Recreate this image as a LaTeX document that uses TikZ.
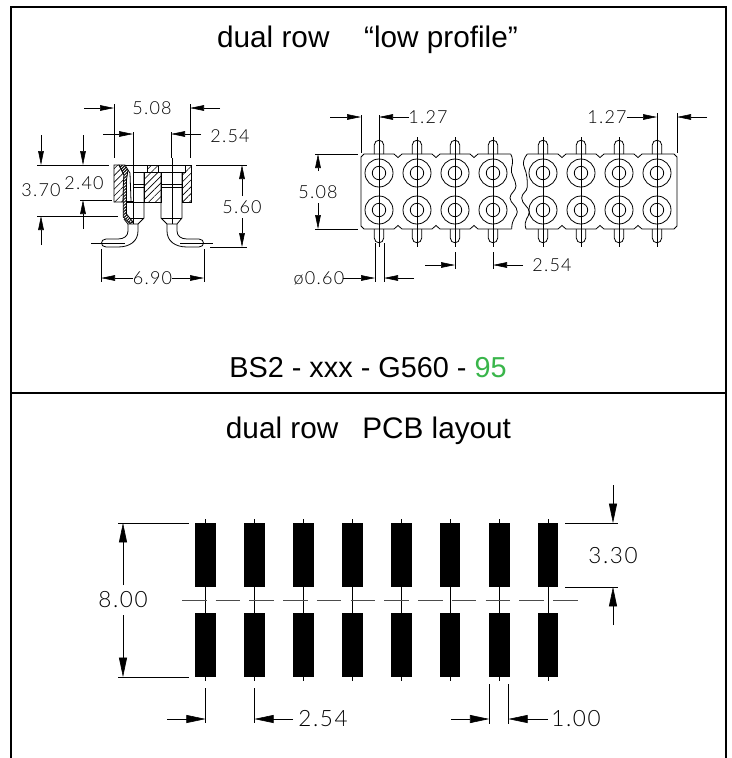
\documentclass[tikz,border=0pt]{standalone}
\usepackage{fontspec}
\usetikzlibrary{arrows.meta,patterns.meta}
\setmainfont{Liberation Sans}
\newfontfamily\cadfont[UprightFont=* Light,LetterSpace=7]{Lato}
\definecolor{gradegreen}{RGB}{57,181,74}
\tikzset{
	title/.style={font=\fontsize{22.3}{26}\selectfont,inner sep=0.75pt},
	dimtext/.style={font=\cadfont\fontsize{13.5}{16}\selectfont,inner sep=0.75pt,text=black},
	thin line/.style={line width=0.45pt},
	part line/.style={line width=0.6pt},
	dim small/.style={thin line,-{Triangle[length=10.5pt,width=4.2pt]}},
	dim large/.style={thin line,-{Triangle[length=14.5pt,width=6pt]}},
	hatch/.style={part line,pattern={Lines[angle=45,distance=3.6pt,line width=0.45pt]}},
	pad/.style={fill=black},
}
\begin{document}
\begin{tikzpicture}[x=0.75pt,y=0.75pt,yscale=-1]
	\useasboundingbox (0,0) rectangle (732,758);

	%Frame
	\draw [line width=1.5pt] (11,758) -- (11,7) -- (726,7) -- (726,758);
	\draw [line width=1.5pt] (11,393) -- (726,393);

	%Side view: body
	\draw [hatch] (114,165) -- (119,165) -- (124,175) -- (123,202) -- (114,202) -- cycle;
	\draw [hatch] (144,202) -- (161,202) -- (161,172) -- (158,172) -- (158,165) -- (147,165) -- (147,172) -- (144,172) -- cycle;
	\draw [hatch] (182,202) -- (191,202) -- (191,165) -- (185,165) -- (185,172) -- (182,172) -- cycle;
	\draw [part line] (119,165) -- (185,165);
	\draw [part line] (123,202) -- (144,202);
	\draw [part line] (133,172) -- (182,172);
	%Side view: right pin
	\draw [part line] (161,172) -- (161,218) -- (167,224) -- (177,224) -- (182,218) -- (182,172);
	\draw [part line] (161,218) -- (182,218);
	\draw [part line] (161,184) -- (182,184);
	\draw [part line] (161,187) -- (182,187);
	\draw [part line] (177,224) -- (177,231) .. controls (177,236) and (181,239) .. (187,239) -- (199,239) .. controls (205,239) and (205,247) .. (199,247) -- (187,247) .. controls (175,247) and (167,241) .. (167,231) -- (167,224);
	%Side view: left pin
	\draw [part line] (144,172) -- (144,218) -- (138,224) -- (128,224) -- (124,219);
	\draw [part line] (127,218) -- (144,218);
	\draw [part line] (133,184) -- (144,184);
	\draw [part line] (133,187) -- (144,187);
	\draw [part line] (128,224) -- (128,231) .. controls (128,236) and (124,239) .. (118,239) -- (106,239) .. controls (100,239) and (100,247) .. (106,247) -- (118,247) .. controls (130,247) and (138,241) .. (138,231) -- (138,224);
	%Side view: contact
	\draw [part line,fill=white] (119,165) -- (125,165) -- (128,170) -- (126.5,180) -- (126.5,214) -- (133,222) -- (130,223.5) -- (123.3,217) -- (123.3,185) -- (124,175) -- cycle;
	\fill [pattern={Lines[angle=45,distance=1.6pt,line width=0.7pt]}] (119,165) -- (125,165) -- (128,170) -- (126.5,180) -- (126.5,214) -- (133,222) -- (130,223.5) -- (123.3,217) -- (123.3,185) -- (124,175) -- cycle;
	\draw [part line] (133,172) -- (133,218);
	\draw [part line] (128,170) -- (130,173) -- (131,201);
	\draw [part line] (126.5,201) -- (133,201);
	%Side view: centre lines
	\draw [thin line] (133,158) -- (133,224);
	\draw [thin line] (172,158) -- (172,224);
	\draw [thin line] (91,243) -- (125,243);
	\draw [thin line] (180,243) -- (213,243);

	%Side view: dimension 5.08
	\draw [thin line] (114,104) -- (114,158);
	\draw [thin line] (190,104) -- (190,158);
	\draw [dim small] (84,108) -- (114,108);
	\draw [dim small] (220,108) -- (190,108);
	%Side view: dimension 2.54
	\draw [thin line] (133,132) -- (133,158);
	\draw [thin line] (171,132) -- (171,158);
	\draw [dim small] (103,134) -- (133,134);
	\draw [dim small] (201,134) -- (171,134);
	%Side view: dimensions 3.70 and 2.40
	\draw [thin line] (37,165) -- (109,165);
	\draw [thin line] (37,216) -- (118,216);
	\draw [thin line] (80,200) -- (112,200);
	\draw [dim small] (41,135) -- (41,165);
	\draw [dim small] (41,245) -- (41,216);
	\draw [dim small] (83,135) -- (83,165);
	\draw [dim small] (83,229) -- (83,200);
	%Side view: dimension 5.60
	\draw [thin line] (196,165) -- (247,165);
	\draw [thin line] (210,247) -- (247,247);
	\draw [dim small] (242,196) -- (242,165);
	\draw [dim small] (242,218) -- (242,247);
	%Side view: dimension 6.90
	\draw [thin line] (101,249) -- (101,282);
	\draw [thin line] (204,249) -- (204,282);
	\draw [dim small] (133,278) -- (101,278);
	\draw [dim small] (172,278) -- (204,278);

	%Top view: pins and holes
	\foreach \pinx in {379,417,455,493,543,581,619,657} {
		\draw [part line] (\pinx-4.7,154) -- (\pinx-4.7,145) .. controls (\pinx-4.7,138.7) and (\pinx+4.7,138.7) .. (\pinx+4.7,145) -- (\pinx+4.7,154);
		\draw [part line] (\pinx-4.7,229) -- (\pinx-4.7,238) .. controls (\pinx-4.7,244.3) and (\pinx+4.7,244.3) .. (\pinx+4.7,238) -- (\pinx+4.7,229);
		\draw [part line] (\pinx,173) circle [radius=14];
		\draw [part line] (\pinx,173) circle [radius=6.7];
		\draw [part line] (\pinx,210) circle [radius=14];
		\draw [part line] (\pinx,210) circle [radius=6.7];
		\draw [thin line] (\pinx,137) -- (\pinx,247);
	}
	%Top view: left part of the body
	\draw [part line] (510.7,154) -- (478,154) -- (474,157.5) -- (470,154) -- (440,154) -- (436,157.5) -- (432,154) -- (402,154) -- (398,157.5) -- (394,154) -- (364,154) -- (361,157) -- (361,226) -- (364,229) -- (394,229) -- (398,225.5) -- (402,229) -- (432,229) -- (436,225.5) -- (440,229) -- (470,229) -- (474,225.5) -- (478,229) -- (511.7,229);
	\draw [part line] (510.7,154) .. controls (513,158) and (513,163) .. (511.5,168) .. controls (510,174) and (516,180) .. (516,186) .. controls (516,191) and (510,193) .. (510,198) .. controls (510,203) and (517.5,206) .. (517.3,212) .. controls (517,217) and (511.7,218) .. (511.7,229);
	%Top view: right part of the body
	\draw [part line] (527.3,154) -- (558,154) -- (562,157.5) -- (566,154) -- (596,154) -- (600,157.5) -- (604,154) -- (634,154) -- (638,157.5) -- (642,154) -- (674,154) -- (677,157) -- (677,226) -- (674,229) -- (642,229) -- (638,225.5) -- (634,229) -- (604,229) -- (600,225.5) -- (596,229) -- (566,229) -- (562,225.5) -- (558,229) -- (526,229);
	\draw [part line] (527.3,154) .. controls (524,158) and (522,163) .. (524.5,168) .. controls (527,174) and (527.5,180) .. (527.3,187) .. controls (527,192) and (521.7,193) .. (521.7,198) .. controls (521.7,204) and (529.3,207) .. (529.3,212) .. controls (529.3,217) and (523,220) .. (526,229);

	%Top view: dimensions 1.27
	\draw [thin line] (361,115) -- (361,153);
	\draw [thin line] (379,115) -- (379,137);
	\draw [dim small] (330,117) -- (361,117);
	\draw [dim small] (409,117) -- (379,117);
	\draw [thin line] (657,113) -- (657,137);
	\draw [thin line] (677,113) -- (677,153);
	\draw [dim small] (627,117) -- (657,117);
	\draw [dim small] (707,117) -- (677,117);
	%Top view: dimension 5.08
	\draw [thin line] (315,154) -- (358,154);
	\draw [thin line] (315,229) -- (358,229);
	\draw [dim small] (318,171) -- (318,154);
	\draw [dim small] (318,203) -- (318,229);
	%Top view: dimension 2.54
	\draw [thin line] (455,252) -- (455,269);
	\draw [thin line] (493,252) -- (493,269);
	\draw [dim small] (425,265) -- (455,265);
	\draw [dim small] (523,265) -- (493,265);
	%Top view: dimension 0.60
	\draw [thin line] (375,243) -- (375,282);
	\draw [thin line] (384,243) -- (384,282);
	\draw [dim small] (343,278) -- (375,278);
	\draw [dim small] (414,278) -- (384,278);

	%PCB: centre lines
	\foreach \padx in {205.7,254.3,303.3,352.3,401.3,450,499.3,548} {
		\draw [thin line] (\padx,519) -- (\padx,681);
	}
	\draw [part line,black!70,dash pattern={on 18.4pt off 6.9pt}] (182,600) -- (580,600);
	%PCB: pads
	\foreach \padx in {205.7,254.3,303.3,352.3,401.3,450,499.3,548} {
		\fill [pad] (\padx-10.3,522.7) rectangle (\padx+10.3,587.3);
		\fill [pad] (\padx-10.3,613) rectangle (\padx+10.3,677.3);
	}
	%PCB: dimension 8.00
	\draw [thin line] (118,523) -- (189,523);
	\draw [thin line] (118,677) -- (189,677);
	\draw [dim large] (123,585) -- (123,523);
	\draw [dim large] (123,615) -- (123,677);
	%PCB: dimension 2.54
	\draw [thin line] (205.7,688) -- (205.7,723);
	\draw [thin line] (254.3,688) -- (254.3,723);
	\draw [dim large] (167,719) -- (205.7,719);
	\draw [dim large] (293,719) -- (254.3,719);
	%PCB: dimension 1.00
	\draw [thin line] (489.3,684) -- (489.3,723.5);
	\draw [thin line] (508.3,684) -- (508.3,723.5);
	\draw [dim large] (451,719) -- (489.3,719);
	\draw [dim large] (548,719) -- (508.3,719);
	%PCB: dimension 3.30
	\draw [thin line] (565,523) -- (618,523);
	\draw [thin line] (565,587) -- (618,587);
	\draw [dim large] (613,485) -- (613,523);
	\draw [dim large] (613,625) -- (613,587);

	% Text Node
	\draw (367.5,40) node (toptitle) [title] {dual row\hspace{26pt}“low profile”};
	% Text Node
	\draw (368,368) node (partcode) [title,scale=0.97] {BS2 - xxx - G560 - \textcolor{gradegreen}{95}};
	% Text Node
	\draw (368.5,431) node (pcbtitle) [title] {dual row\hspace{18pt}PCB layout};
	% Text Node
	\draw (152,108) node (sidepitch) [dimtext] {5.08};
	% Text Node
	\draw (230,136) node (sidehalf) [dimtext] {2.54};
	% Text Node
	\draw (41,190) node (sidefull) [dimtext] {3.70};
	% Text Node
	\draw (84,183) node (sidepost) [dimtext] {2.40};
	% Text Node
	\draw (242,207) node (sideheight) [dimtext] {5.60};
	% Text Node
	\draw (152.5,278) node (sidespan) [dimtext] {6.90};
	% Text Node
	\draw (428,117) node (topleft) [dimtext] {1.27};
	% Text Node
	\draw (607,117) node (topright) [dimtext] {1.27};
	% Text Node
	\draw (318,192) node (toprows) [dimtext] {5.08};
	% Text Node
	\draw (552,265) node (toppitch) [dimtext] {2.54};
	% Text Node
	\draw (319,278) node (toppin) [dimtext] {ø0.60};
	% Text Node
	\draw (123,600) node (pcbspan) [dimtext,scale=1.25] {8.00};
	% Text Node
	\draw (323,719) node (pcbpitch) [dimtext,scale=1.25] {2.54};
	% Text Node
	\draw (576,719) node (pcbwidth) [dimtext,scale=1.25] {1.00};
	% Text Node
	\draw (613,556) node (pcblength) [dimtext,scale=1.25] {3.30};
\end{tikzpicture}
\end{document}
